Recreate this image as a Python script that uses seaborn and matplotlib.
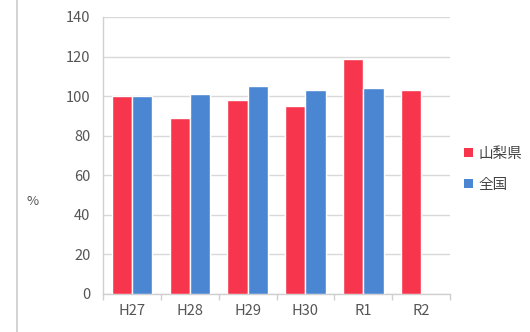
import matplotlib
matplotlib.use("Agg")
import matplotlib.pyplot as plt
from matplotlib.lines import Line2D
from matplotlib.patches import Patch
import numpy as np
import pandas as pd
import seaborn as sns

years = ["H27", "H28", "H29", "H30", "R1", "R2"]
yamanashi = [100, 89, 98, 95, 119, 103]
national = [100, 101, 105, 103, 104, np.nan]
series_names = ["山梨県", "全国"]
colors = ["#F7364D", "#4A86D2"]
y_ticks = [0, 20, 40, 60, 80, 100, 120, 140]

sns.set_theme(style="white")
plt.rcParams["font.family"] = ["Noto Sans CJK JP", "DejaVu Sans"]

df = pd.DataFrame({
    "year": years * 2,
    "value": yamanashi + national,
    "series": [series_names[0]] * len(years) + [series_names[1]] * len(years),
})

fig = plt.figure(figsize=(5.30, 3.32), dpi=100)
ax = fig.add_axes([0.1943, 0.1145, 0.655, 0.8343])

sns.barplot(data=df, x="year", y="value", hue="series", order=years,
            hue_order=series_names, palette=colors, width=0.70,
            edgecolor="white", linewidth=1.0, saturation=1, ax=ax,
            legend=False, zorder=3)

ax.set_ylim(0, 140)
ax.set_yticks(y_ticks)
ax.set_xlim(-0.5, len(years) - 0.5)
ax.yaxis.grid(True, color="#D9D9D9", linewidth=1.0, zorder=0)
ax.set_xlabel("")
ax.set_ylabel("")

for side in ["top", "right"]:
    ax.spines[side].set_visible(False)
for side in ["left", "bottom"]:
    ax.spines[side].set_color("#D0D0D0")
    ax.spines[side].set_linewidth(1.0)

ax.tick_params(axis="y", length=6, color="#D9D9D9", labelsize=10.5,
               labelcolor="#555555", pad=3)
ax.tick_params(axis="x", which="major", length=0, labelsize=10.5,
               labelcolor="#555555", pad=7)
ax.set_xticks(np.arange(-0.5, len(years)), minor=True)
ax.tick_params(axis="x", which="minor", length=4, color="#D0D0D0", bottom=True)

fig.text(0.062, 0.392, "%", fontsize=9.5, color="#555555", ha="center", va="center")

handles = [Patch(facecolor=c, edgecolor="none") for c in colors]
fig.legend(handles, series_names, loc="upper left",
           bbox_to_anchor=(0.87, 0.566), frameon=False, fontsize=10.5,
           handlelength=0.6, handleheight=0.6, handletextpad=0.4,
           labelspacing=1.15, labelcolor="#444444", borderaxespad=0,
           borderpad=0.2)

# page margin rule to the left of the chart
fig.add_artist(Line2D([0.032, 0.032], [0.0, 1.0], color="#CCCCCC",
                      linewidth=1.2, transform=fig.transFigure))

fig.savefig("out.png", dpi=100)
